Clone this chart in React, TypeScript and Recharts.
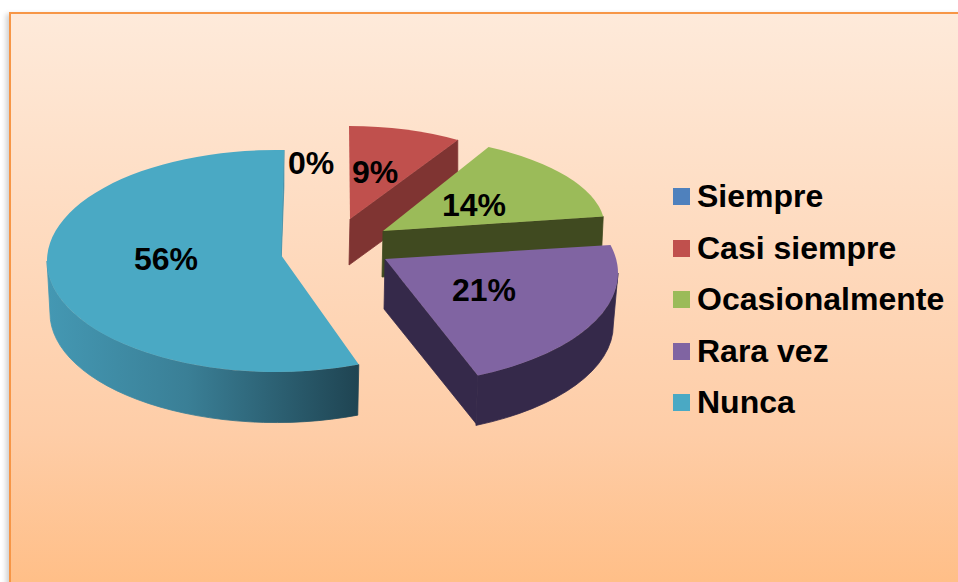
import React from "react";
import { PieChart, Pie, Cell, Legend } from "recharts";

const CATEGORIES = ["Siempre", "Casi siempre", "Ocasionalmente", "Rara vez", "Nunca"];
const VALUES = [0, 9, 14, 21, 56];
const COLORS = ["#4F81BD", "#C0504D", "#9BBB59", "#8064A2", "#4AA9C4"];

// wall colour of each slice, the last one is a gradient
const WALL_COLORS = ["#3A5F8C", "#7F3432", "#404A20", "#35294A", "url(#nuncaWall)"];
const END_WALL_COLORS = ["#3A5F8C", "#7F3432", "#404A20", "#35294A", "#4292AC"];

const data = CATEGORIES.map((name, i) => ({ name, value: VALUES[i] }));

const FONT = "'Liberation Sans', Arial, sans-serif";

interface SliceLook {
  ex: number;
  ey: number;
  rx: number;
  ry: number;
  ax: number; // tip of the wedge, it isn't at the ellipse centre because of the 3d view
  ay: number;
  depth: number;
  endDepth: number;
  bottomScale: number;
  startNudge: number;
  endNudge: number;
  outerWall: boolean;
}

// Excel-style exploded 3d pie: every slice has its own offset and perspective
const LOOKS: SliceLook[] = [
  { ex: 285, ey: 255, rx: 230, ry: 105, ax: 285, ay: 255, depth: 50, endDepth: 50, bottomScale: 1, startNudge: 0, endNudge: 0, outerWall: false },
  { ex: 349, ey: 216, rx: 203, ry: 90, ax: 350, ay: 219, depth: 46, endDepth: 46, bottomScale: 1, startNudge: 0, endNudge: 0, outerWall: false },
  { ex: 383, ey: 228, rx: 222, ry: 92, ax: 383, ay: 231, depth: 46, endDepth: 46, bottomScale: 0.99, startNudge: -4, endNudge: 0, outerWall: false },
  { ex: 383, ey: 273, rx: 235, ry: 112, ax: 385, ay: 259, depth: 52, endDepth: 50, bottomScale: 0.98, startNudge: -7.3, endNudge: -2.2, outerWall: true },
  { ex: 276, ey: 261, rx: 229, ry: 111, ax: 281, ay: 255, depth: 52, endDepth: 36, bottomScale: 0.987, startNudge: 0.4, endNudge: 2, outerWall: true },
];

const LABEL_SPOTS = [
  { x: 311, y: 174 },
  { x: 375, y: 183 },
  { x: 474, y: 216 },
  { x: 484, y: 301 },
  { x: 166, y: 270 },
];

const LEGEND_LEFT = 673;
const LEGEND_TOP = 178;
const LEGEND_STEP = 51.5;

function rimPoint(g: SliceLook, clockDeg: number, scale = 1, dy = 0) {
  const a = (clockDeg * Math.PI) / 180;
  return {
    x: g.ex + g.rx * scale * Math.sin(a),
    y: g.ey + dy - g.ry * scale * Math.cos(a),
  };
}

function Slice3D(props: any) {
  const { startAngle, endAngle, index } = props;
  if (startAngle === endAngle) return null;
  const g = LOOKS[index];
  // recharts angles run counter clockwise from 3 o'clock
  const from = 90 - startAngle + g.startNudge;
  const to = 90 - endAngle + g.endNudge;
  const large = to - from > 180 ? 1 : 0;

  const p0 = rimPoint(g, from);
  const p1 = rimPoint(g, to);
  const e1 = rimPoint(g, to, g.bottomScale, g.endDepth);

  const top = `M${g.ax},${g.ay} L${p0.x},${p0.y} A${g.rx},${g.ry} 0 ${large} 1 ${p1.x},${p1.y} Z`;
  const endWall = `M${p1.x},${p1.y} L${g.ax},${g.ay} L${g.ax - 1},${g.ay + g.endDepth} L${e1.x},${e1.y} Z`;

  // the rim is only seen on the front half, between the two side extremes
  const wallFrom = Math.max(from, 90);
  const wallTo = Math.min(to, 270);
  const w0 = rimPoint(g, wallFrom);
  const w1 = rimPoint(g, wallTo);
  const b0 = rimPoint(g, wallFrom, g.bottomScale, g.depth);
  const b1 = rimPoint(g, wallTo, g.bottomScale, g.depth);
  const outer =
    `M${w0.x},${w0.y} A${g.rx},${g.ry} 0 0 1 ${w1.x},${w1.y} ` +
    `L${b1.x},${b1.y} A${g.rx * g.bottomScale},${g.ry * g.bottomScale} 0 0 0 ${b0.x},${b0.y} Z`;

  return (
    <g>
      <path d={endWall} fill={END_WALL_COLORS[index]} stroke={END_WALL_COLORS[index]} strokeWidth={0.8} />
      {g.outerWall && <path d={outer} fill={WALL_COLORS[index]} stroke={WALL_COLORS[index]} strokeWidth={0.8} />}
      <path d={top} fill={props.fill} />
    </g>
  );
}

function PercentLabel(props: any) {
  const spot = LABEL_SPOTS[props.index];
  return (
    <text x={spot.x} y={spot.y} textAnchor="middle" fontFamily={FONT} fontSize={32} fontWeight={700} fill="#000">
      {`${VALUES[props.index]}%`}
    </text>
  );
}

function LegendBlock() {
  return (
    <div style={{ position: "relative", width: 285, height: 260, fontFamily: FONT }}>
      {CATEGORIES.map((name, i) => (
        <div key={name} style={{ position: "absolute", left: 0, top: i * LEGEND_STEP, height: 36, whiteSpace: "nowrap" }}>
          <span
            style={{ position: "absolute", left: 0, top: 10, width: 17, height: 17, background: COLORS[i] }}
          />
          <span
            style={{ position: "absolute", left: 24, top: 0, fontSize: 32, fontWeight: 700, lineHeight: "36px", color: "#000" }}
          >
            {name}
          </span>
        </div>
      ))}
    </div>
  );
}

export default function App() {
  return (
    <div style={{ position: "absolute", left: 0, top: 0, width: 958, height: 582, overflow: "hidden", background: "#fff" }}>
      <div
        style={{
          position: "absolute",
          left: 9,
          top: 12,
          width: 960,
          height: 580,
          boxSizing: "border-box",
          border: "2px solid #F79646",
          background: "linear-gradient(180deg, #FEEADA 0%, #FECDA7 73%, #FFBE86 100%)",
          boxShadow: "-3px 2px 5px rgba(0,0,0,0.18)",
        }}
      />
      <div style={{ position: "absolute", left: 0, top: 0 }}>
        <PieChart width={958} height={582} margin={{ top: 0, right: 0, bottom: 0, left: 0 }}>
          <defs>
            <linearGradient id="nuncaWall" gradientUnits="userSpaceOnUse" x1="47" y1="0" x2="359" y2="0">
              <stop offset="0%" stopColor="#4498B3" />
              <stop offset="45%" stopColor="#3A7F96" />
              <stop offset="100%" stopColor="#1F4452" />
            </linearGradient>
          </defs>
          <Pie
            data={data}
            dataKey="value"
            nameKey="name"
            cx={281}
            cy={255}
            outerRadius={200}
            startAngle={90}
            endAngle={-270}
            stroke="none"
            shape={Slice3D}
            label={PercentLabel}
            labelLine={false}
            isAnimationActive={false}
          >
            {CATEGORIES.map((name, i) => (
              <Cell key={name} fill={COLORS[i]} />
            ))}
          </Pie>
          <Legend
            content={LegendBlock}
            wrapperStyle={{ position: "absolute", left: LEGEND_LEFT, top: LEGEND_TOP, width: 285 }}
          />
        </PieChart>
      </div>
    </div>
  );
}
